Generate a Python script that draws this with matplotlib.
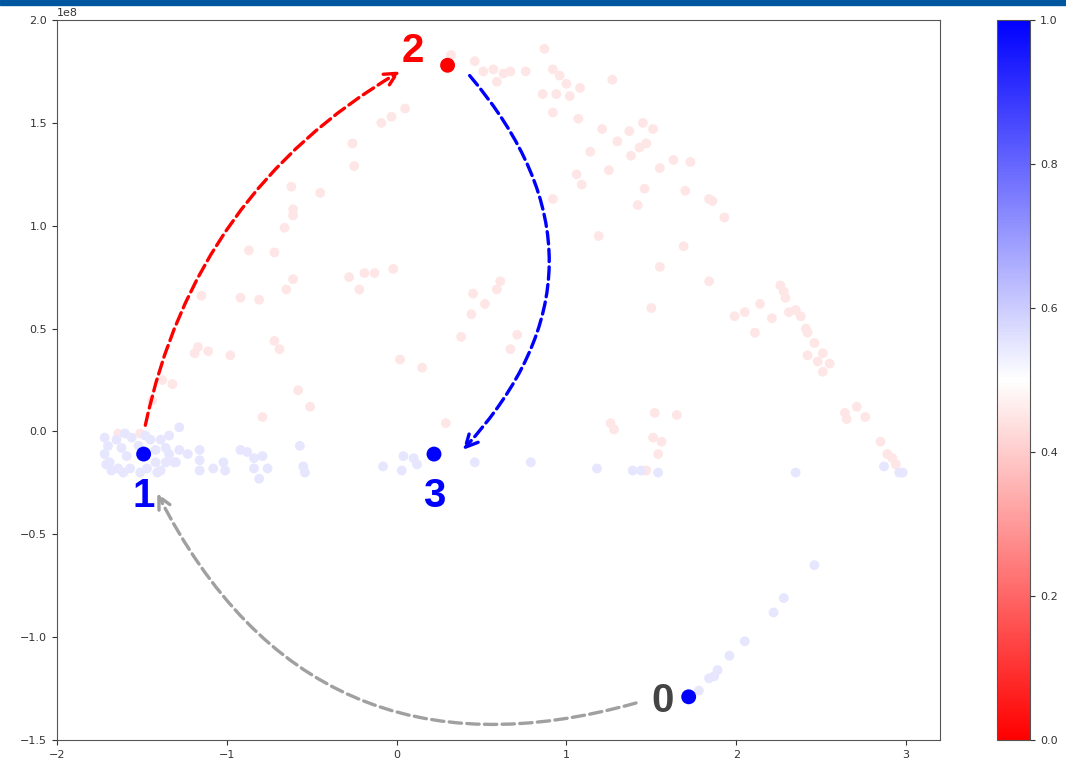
import matplotlib
matplotlib.use("Agg")
import matplotlib.pyplot as plt
import numpy as np
from matplotlib.patches import Rectangle

# light red points (class value ~0.45), y in units of 1e8
red_x = [0.32, 0.46, 0.51, 0.57, 0.59, 0.63, 0.67, 0.76, 0.87, 0.92, 0.96, 0.86, 0.94,
         1.00, 1.02, 1.08, 1.27, 0.92, 1.07, 1.21, 1.30, 1.37, 1.45, 1.47, 1.43, 1.51,
         1.14, 1.38, 0.05, -0.03, -0.09,
         1.55, 1.63, 1.73, 1.25, 1.06, 1.09, 1.46, 1.70, 1.84, 1.86, 1.93, 0.92, 1.42,
         1.19, 1.69, 1.55, 1.84, 1.50, -0.02, 0.45, 0.52, 0.59, 0.61, 0.44, 1.99, 2.05,
         2.14, 2.26, 2.28, 2.29, 2.21, 2.31, 2.35, 2.38,
         2.11, 2.41, 2.42, 2.46, 2.51, 2.42, 2.48, 2.55, 2.51, 0.71, 0.67, 1.52, 1.65,
         1.26, 1.28, 1.51, 1.56, 1.54, 1.47, 2.64, 2.65, 2.71, 2.76, 2.85, 2.89, 2.92, 2.94,
         0.38, 0.02, 0.15, 0.29,
         -0.26, -0.25, -0.62, -0.45, -0.61, -0.61, -0.66, -0.87, -0.72, -0.28, -0.19,
         -0.13, -0.22, -0.61, -0.65, -1.15, -0.92, -0.81, -0.72, -0.69, -1.17, -1.19,
         -1.11, -0.98, -1.38, -1.32, -1.44, -0.58, -0.51, -0.79, -1.64, -1.51]
red_y = [1.83, 1.80, 1.75, 1.76, 1.70, 1.74, 1.75, 1.75, 1.86, 1.76, 1.73, 1.64, 1.64,
         1.69, 1.63, 1.67, 1.71, 1.55, 1.52, 1.47, 1.41, 1.46, 1.50, 1.40, 1.38, 1.47,
         1.36, 1.34, 1.57, 1.53, 1.50,
         1.28, 1.32, 1.31, 1.27, 1.25, 1.20, 1.18, 1.17, 1.13, 1.12, 1.04, 1.13, 1.10,
         0.95, 0.90, 0.80, 0.73, 0.60, 0.79, 0.67, 0.62, 0.69, 0.73, 0.57, 0.56, 0.58,
         0.62, 0.71, 0.68, 0.65, 0.55, 0.58, 0.59, 0.56,
         0.48, 0.50, 0.48, 0.43, 0.38, 0.37, 0.34, 0.33, 0.29, 0.47, 0.40, 0.09, 0.08,
         0.04, 0.01, -0.03, -0.05, -0.11, -0.19, 0.09, 0.06, 0.12, 0.07, -0.05, -0.11, -0.13, -0.16,
         0.46, 0.35, 0.31, 0.04,
         1.40, 1.29, 1.19, 1.16, 1.08, 1.05, 0.99, 0.88, 0.87, 0.75, 0.77,
         0.77, 0.69, 0.74, 0.69, 0.66, 0.65, 0.64, 0.44, 0.40, 0.41, 0.38,
         0.39, 0.37, 0.25, 0.23, 0.15, 0.20, 0.12, 0.07, -0.01, -0.01]

# light blue points (class value ~0.55)
blue_x = [-1.72, -1.70, -1.72, -1.69, -1.65, -1.62, -1.59, -1.64, -1.56, -1.52, -1.45,
          -1.42, -1.39, -1.36, -1.34, -1.36, -1.42, -1.47, -1.57, -1.61, -1.68, -1.71,
          -1.51, -1.34, -1.60, -1.48, -1.39, -1.30,
          -1.28, -1.28, -1.23, -1.16, -1.16, -1.16, -1.08, -1.02, -1.01, -0.92, -0.88,
          -0.84, -0.79, -0.84, -0.76, -0.81, -1.31, -1.41, -0.57, -0.55, -0.54, -0.08,
          0.04, 0.10, 0.12, 0.03, 0.46, 0.79, 1.18, 1.39, 1.44, 1.54, 2.35, 2.87, 2.96, 2.98,
          2.46, 2.28, 2.22, 2.05, 1.96, 1.89, 1.87, 1.84, 1.78]
blue_y = [-0.03, -0.07, -0.11, -0.15, -0.04, -0.08, -0.12, -0.18, -0.03, -0.07, -0.04,
          -0.09, -0.04, -0.08, -0.11, -0.15, -0.15, -0.18, -0.18, -0.20, -0.19, -0.16,
          -0.20, -0.02, -0.01, -0.02, -0.19, -0.15,
          0.02, -0.09, -0.11, -0.09, -0.14, -0.19, -0.18, -0.15, -0.19, -0.09, -0.10,
          -0.13, -0.12, -0.18, -0.18, -0.23, -0.15, -0.20, -0.07, -0.17, -0.20, -0.17,
          -0.12, -0.13, -0.16, -0.19, -0.15, -0.15, -0.18, -0.19, -0.19, -0.20, -0.20, -0.17, -0.20, -0.20,
          -0.65, -0.81, -0.88, -1.02, -1.09, -1.16, -1.19, -1.20, -1.26]

red_val = 0.45
blue_val = 0.55

# highlighted samples 0..3
key_labels = ['0', '1', '2', '3']
key_x = [1.72, -1.49, 0.30, 0.22]
key_y = [-1.29, -0.11, 1.78, -0.11]
key_val = [1.0, 1.0, 0.0, 1.0]
key_label_color = ['#444444', '#0000ff', '#ff0000', '#0000ff']
key_label_offset = [(-19, -3), (0, -30), (-25, 10), (0, -30)]

# arrows: (start, end, colour, rad)
arrows = [
    ((-1.48, 0.03), (0.02, 1.75), '#ff0000', -0.22),
    ((0.43, 1.73), (0.39, -0.09), '#0000ff', -0.44),
    ((1.41, -1.32), (-1.41, -0.30), '#a0a0a0', -0.41),
]

fig = plt.figure(figsize=(10.66, 7.64), dpi=100)
ax = fig.add_axes([0.0535, 0.0314, 0.8283, 0.9424])
cax = fig.add_axes([0.9353, 0.0314, 0.031, 0.9424])

cmap = plt.get_cmap('bwr_r')
pts_x = np.array(red_x + blue_x)
pts_y = np.array(red_y + blue_y) * 1e8
pts_c = [red_val] * len(red_x) + [blue_val] * len(blue_x)
sc = ax.scatter(pts_x, pts_y, c=pts_c, cmap=cmap, vmin=0, vmax=1, s=50, linewidths=0)
ax.scatter(key_x, np.array(key_y) * 1e8, c=key_val, cmap=cmap, vmin=0, vmax=1,
           s=115, linewidths=0, zorder=3)

for lab, x, y, col, off in zip(key_labels, key_x, key_y, key_label_color, key_label_offset):
    ax.annotate(lab, (x, y * 1e8), xytext=off, textcoords='offset points',
                ha='center', va='center', fontsize=29, fontweight='bold',
                color=col, family='Liberation Sans')

for (x0, y0), (x1, y1), col, rad in arrows:
    ax.annotate('', xy=(x1, y1 * 1e8), xytext=(x0, y0 * 1e8),
                arrowprops=dict(arrowstyle='->', color=col, lw=2.4, linestyle='--',
                                connectionstyle='arc3,rad=%s' % rad,
                                mutation_scale=22, shrinkA=0, shrinkB=0))

ax.set_xlim(-2, 3.2)
ax.set_ylim(-1.5e8, 2.0e8)
ax.set_xticks([-2, -1, 0, 1, 2, 3])
ax.set_yticks(np.arange(-1.5, 2.01, 0.5) * 1e8)
ax.tick_params(labelsize=8, colors='#333333')
for sp in ax.spines.values():
    sp.set_color('#555555')
ax.yaxis.get_offset_text().set_fontsize(8)
ax.yaxis.get_offset_text().set_color('#333333')

cb = fig.colorbar(sc, cax=cax)
cb.set_ticks([0.0, 0.2, 0.4, 0.6, 0.8, 1.0])
cb.ax.tick_params(labelsize=8, colors='#333333')
cb.outline.set_edgecolor('#555555')

# header strip at the very top
fig.patches.append(Rectangle((0, 0.994), 1, 0.006, transform=fig.transFigure,
                             color='#0057a0', zorder=10))

fig.savefig('out.png', dpi=100)
